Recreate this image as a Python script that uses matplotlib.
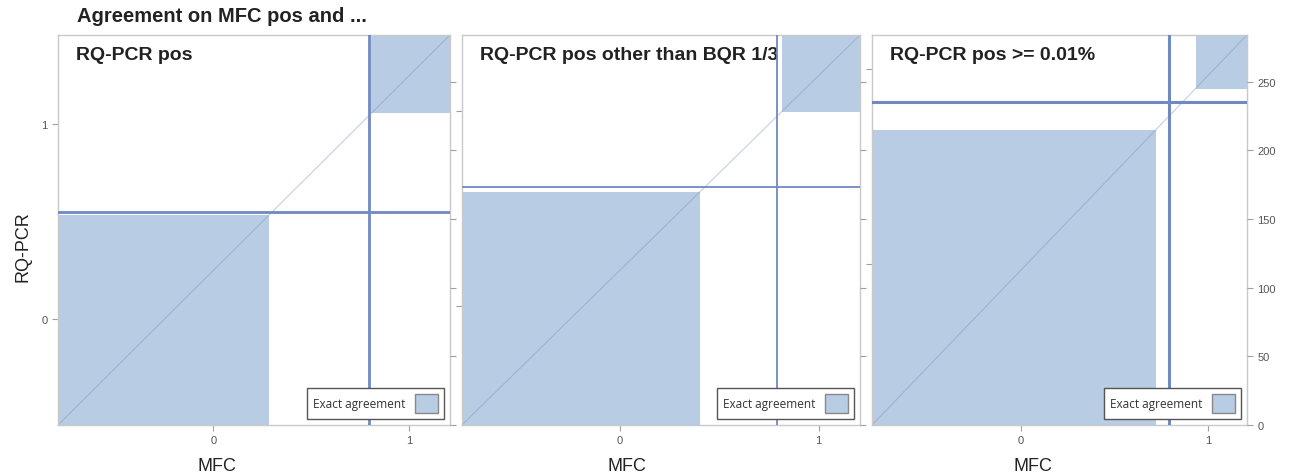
import numpy as np
import matplotlib
matplotlib.use("Agg")
import matplotlib.pyplot as plt
from matplotlib.patches import Rectangle, Patch

# 2x2 tables: rows = RQ-PCR (0, 1), columns = MFC (0, 1)
panel_titles = ["RQ-PCR pos", "RQ-PCR pos other than BQR 1/3", "RQ-PCR pos >= 0.01%"]
table_pos = [[153, 2], [72, 57]]
table_pos_not_bqr = [[170, 3], [55, 56]]
table_pos_001 = [[215, 20], [10, 39]]
categories = ["0", "1"]
count_ticks = [0, 50, 100, 150, 200, 250]

tables = [table_pos, table_pos_not_bqr, table_pos_001]

fill_col = "#b8cce4"
line_col = "#7189c1"
frame_col = "#c9c9c9"
tick_col = "#a0a0a0"
text_col = "#222222"

plt.rcParams["font.family"] = ["Liberation Sans", "DejaVu Sans"]

fig = plt.figure(figsize=(12.92, 4.77), dpi=100)

# axes boxes in pixels (left, right)
boxes = [(58, 450), (462, 860), (872, 1247)]
top_px, bot_px = 36, 426
W, H = 1292, 477

for k, (tab, title, (x0, x1)) in enumerate(zip(tables, panel_titles, boxes)):
    t = np.array(tab)
    N = t.sum()
    rows = t.sum(axis=1)
    cols = t.sum(axis=0)
    xc = np.concatenate([[0], np.cumsum(cols)])
    yc = np.concatenate([[0], np.cumsum(rows)])

    ax = fig.add_axes([x0 / W, 1 - bot_px / H, (x1 - x0) / W, (bot_px - top_px) / H])
    ax.set_xlim(0, N)
    ax.set_ylim(0, N)

    # exact agreement squares
    for i in range(len(categories)):
        sx = xc[i] + t[:i, i].sum()
        sy = yc[i] + t[i, :i].sum()
        ax.add_patch(Rectangle((sx, sy), t[i, i], t[i, i], facecolor=fill_col,
                               edgecolor="none", zorder=1))

    # marginal boundaries
    lw = [2.0, 1.3, 2.2][k]
    for v in xc[1:-1]:
        ax.axvline(v, color=line_col, lw=lw, zorder=3)
    for v in yc[1:-1]:
        ax.axhline(v, color=line_col, lw=lw, zorder=3)

    ax.plot([0, N], [0, N], color="#7f95c2", lw=0.8, alpha=0.45, zorder=2)

    for s in ax.spines.values():
        s.set_color(frame_col)
        s.set_linewidth(1)

    ax.set_xticks((xc[:-1] + xc[1:]) / 2)
    ax.set_xticklabels(categories)
    ax.set_yticks((yc[:-1] + yc[1:]) / 2)
    if k == 0:
        ax.set_yticklabels(categories)
        ax.set_ylabel("RQ-PCR", fontsize=13, color=text_col)
        ax.yaxis.set_label_coords(-0.068, 0.46)
    else:
        ax.set_yticklabels([])
    ax.tick_params(colors=tick_col, labelcolor="#555555", labelsize=8, length=4, width=0.8)

    ax.set_xlabel("MFC", fontsize=13, color=text_col)
    ax.xaxis.set_label_coords([0.405, 0.415, 0.43][k], -0.082)

    ax2 = ax.twinx()
    ax2.set_ylim(0, N)
    ax2.set_yticks(count_ticks)
    if k < 2:
        ax2.set_yticklabels([])
    ax2.tick_params(colors=tick_col, labelcolor="#555555", labelsize=8, length=4, width=0.8)
    for s in ax2.spines.values():
        s.set_visible(False)

    ax.annotate(title, xy=(0, 1), xycoords="axes fraction", xytext=(18, -19),
                textcoords="offset pixels", ha="left", va="center",
                fontsize=14, fontweight="bold", color=text_col, zorder=2.5)

    leg = ax.legend(handles=[Patch(facecolor=fill_col, edgecolor="#888888", lw=1)],
                    labels=["Exact agreement"], loc="lower right", markerfirst=False,
                    fancybox=False, framealpha=1, edgecolor="#555555",
                    handlelength=1.9, handleheight=2.0, handletextpad=0.8,
                    borderpad=0.5, borderaxespad=0.55,
                    prop={"family": "Open Sans", "size": 8.5})
    leg.get_frame().set_linewidth(1)
    for txt in leg.get_texts():
        txt.set_color("#333333")
    leg.set_zorder(5)

fig.text(77 / W, 1 - 17 / H, "Agreement on MFC pos and ...", ha="left", va="center",
         fontsize=14.5, fontweight="bold", color=text_col)

fig.savefig("out.png", dpi=100, facecolor="white")
